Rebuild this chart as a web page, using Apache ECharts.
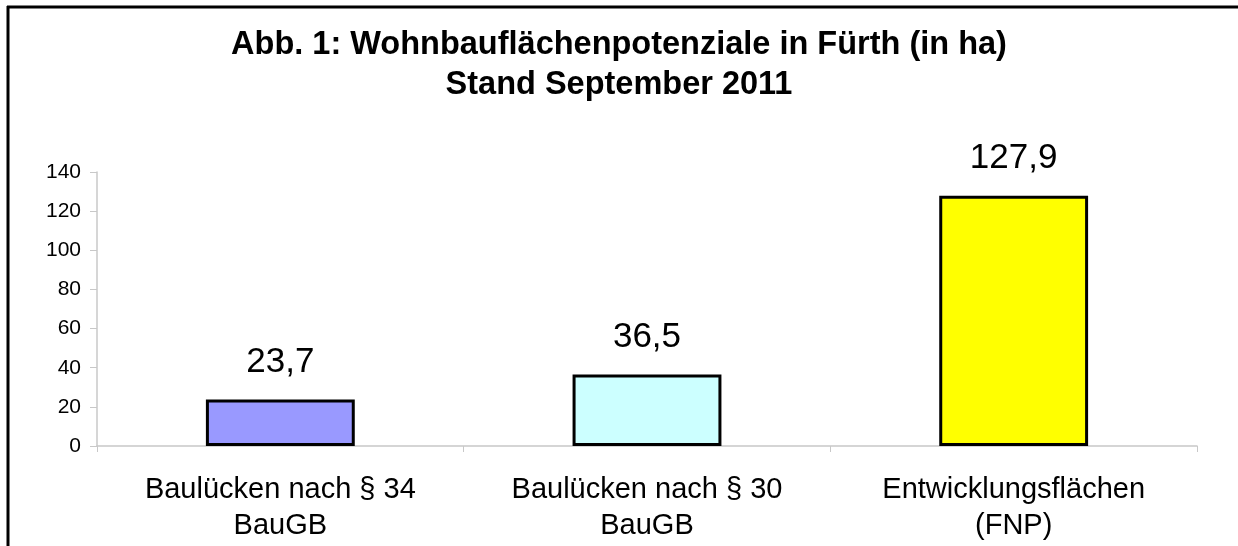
<!DOCTYPE html>
<html>
<head>
<meta charset="utf-8">
<script src="https://cdn.jsdelivr.net/npm/echarts@6/dist/echarts.min.js"></script>
<style>
html,body{margin:0;padding:0;background:#fff;}
#chart{width:1238px;height:546px;}
</style>
</head>
<body>
<div id="chart"></div>
<script>
const titleText = 'Abb. 1: Wohnbauflächenpotenziale in Fürth (in ha)\nStand September 2011';
const categories = ['Baulücken nach § 34\nBauGB', 'Baulücken nach § 30\nBauGB', 'Entwicklungsflächen\n(FNP)'];
const values = [23.7, 36.5, 127.9];
const barColors = ['#9999ff', '#ccffff', '#ffff00'];
const yTicks = [0, 20, 40, 60, 80, 100, 120, 140];

const chart = echarts.init(document.getElementById('chart'), null, {renderer: 'canvas'});
const FONT = '"Liberation Sans", Arial, sans-serif';
chart.setOption({
  backgroundColor: '#ffffff',
  animation: false,
  title: {
    text: titleText,
    left: 'center',
    top: 20,
    textStyle: {fontFamily: FONT, fontSize: 32.5, fontWeight: 'bold', color: '#000', lineHeight: 40}
  },
  graphic: [
    {type: 'line', shape: {x1: 7, y1: 7, x2: 1238, y2: 7}, style: {stroke: '#000', lineWidth: 3}},
    {type: 'line', shape: {x1: 8, y1: 6, x2: 8, y2: 546}, style: {stroke: '#000', lineWidth: 3}}
  ],
  grid: {left: 97, right: 41, top: 172, bottom: 100, containLabel: false},
  xAxis: {
    type: 'category',
    data: categories,
    boundaryGap: true,
    axisLine: {lineStyle: {color: '#c8c8c8', width: 1.5}},
    axisTick: {show: true, alignWithLabel: false, length: 6, lineStyle: {color: '#c8c8c8'}},
    axisLabel: {fontFamily: FONT, fontSize: 29, color: '#000', lineHeight: 36, margin: 26, interval: 0}
  },
  yAxis: {
    type: 'value',
    min: yTicks[0],
    max: yTicks[yTicks.length - 1],
    interval: 20,
    splitLine: {show: false},
    axisLine: {show: true, lineStyle: {color: '#c8c8c8', width: 1.5}},
    axisTick: {show: true, length: 7, lineStyle: {color: '#c8c8c8'}},
    axisLabel: {fontFamily: FONT, fontSize: 21, color: '#000', margin: 16}
  },
  series: [{
    type: 'bar',
    data: values.map((v, i) => ({value: v, itemStyle: {color: barColors[i]}})),
    barWidth: '40.6%',
    itemStyle: {borderColor: '#000', borderWidth: 3},
    label: {
      show: true,
      position: 'top',
      distance: 20,
      fontFamily: FONT,
      fontSize: 35,
      color: '#000',
      formatter: p => String(p.value).replace('.', ',')
    }
  }]
});
</script>
</body>
</html>
